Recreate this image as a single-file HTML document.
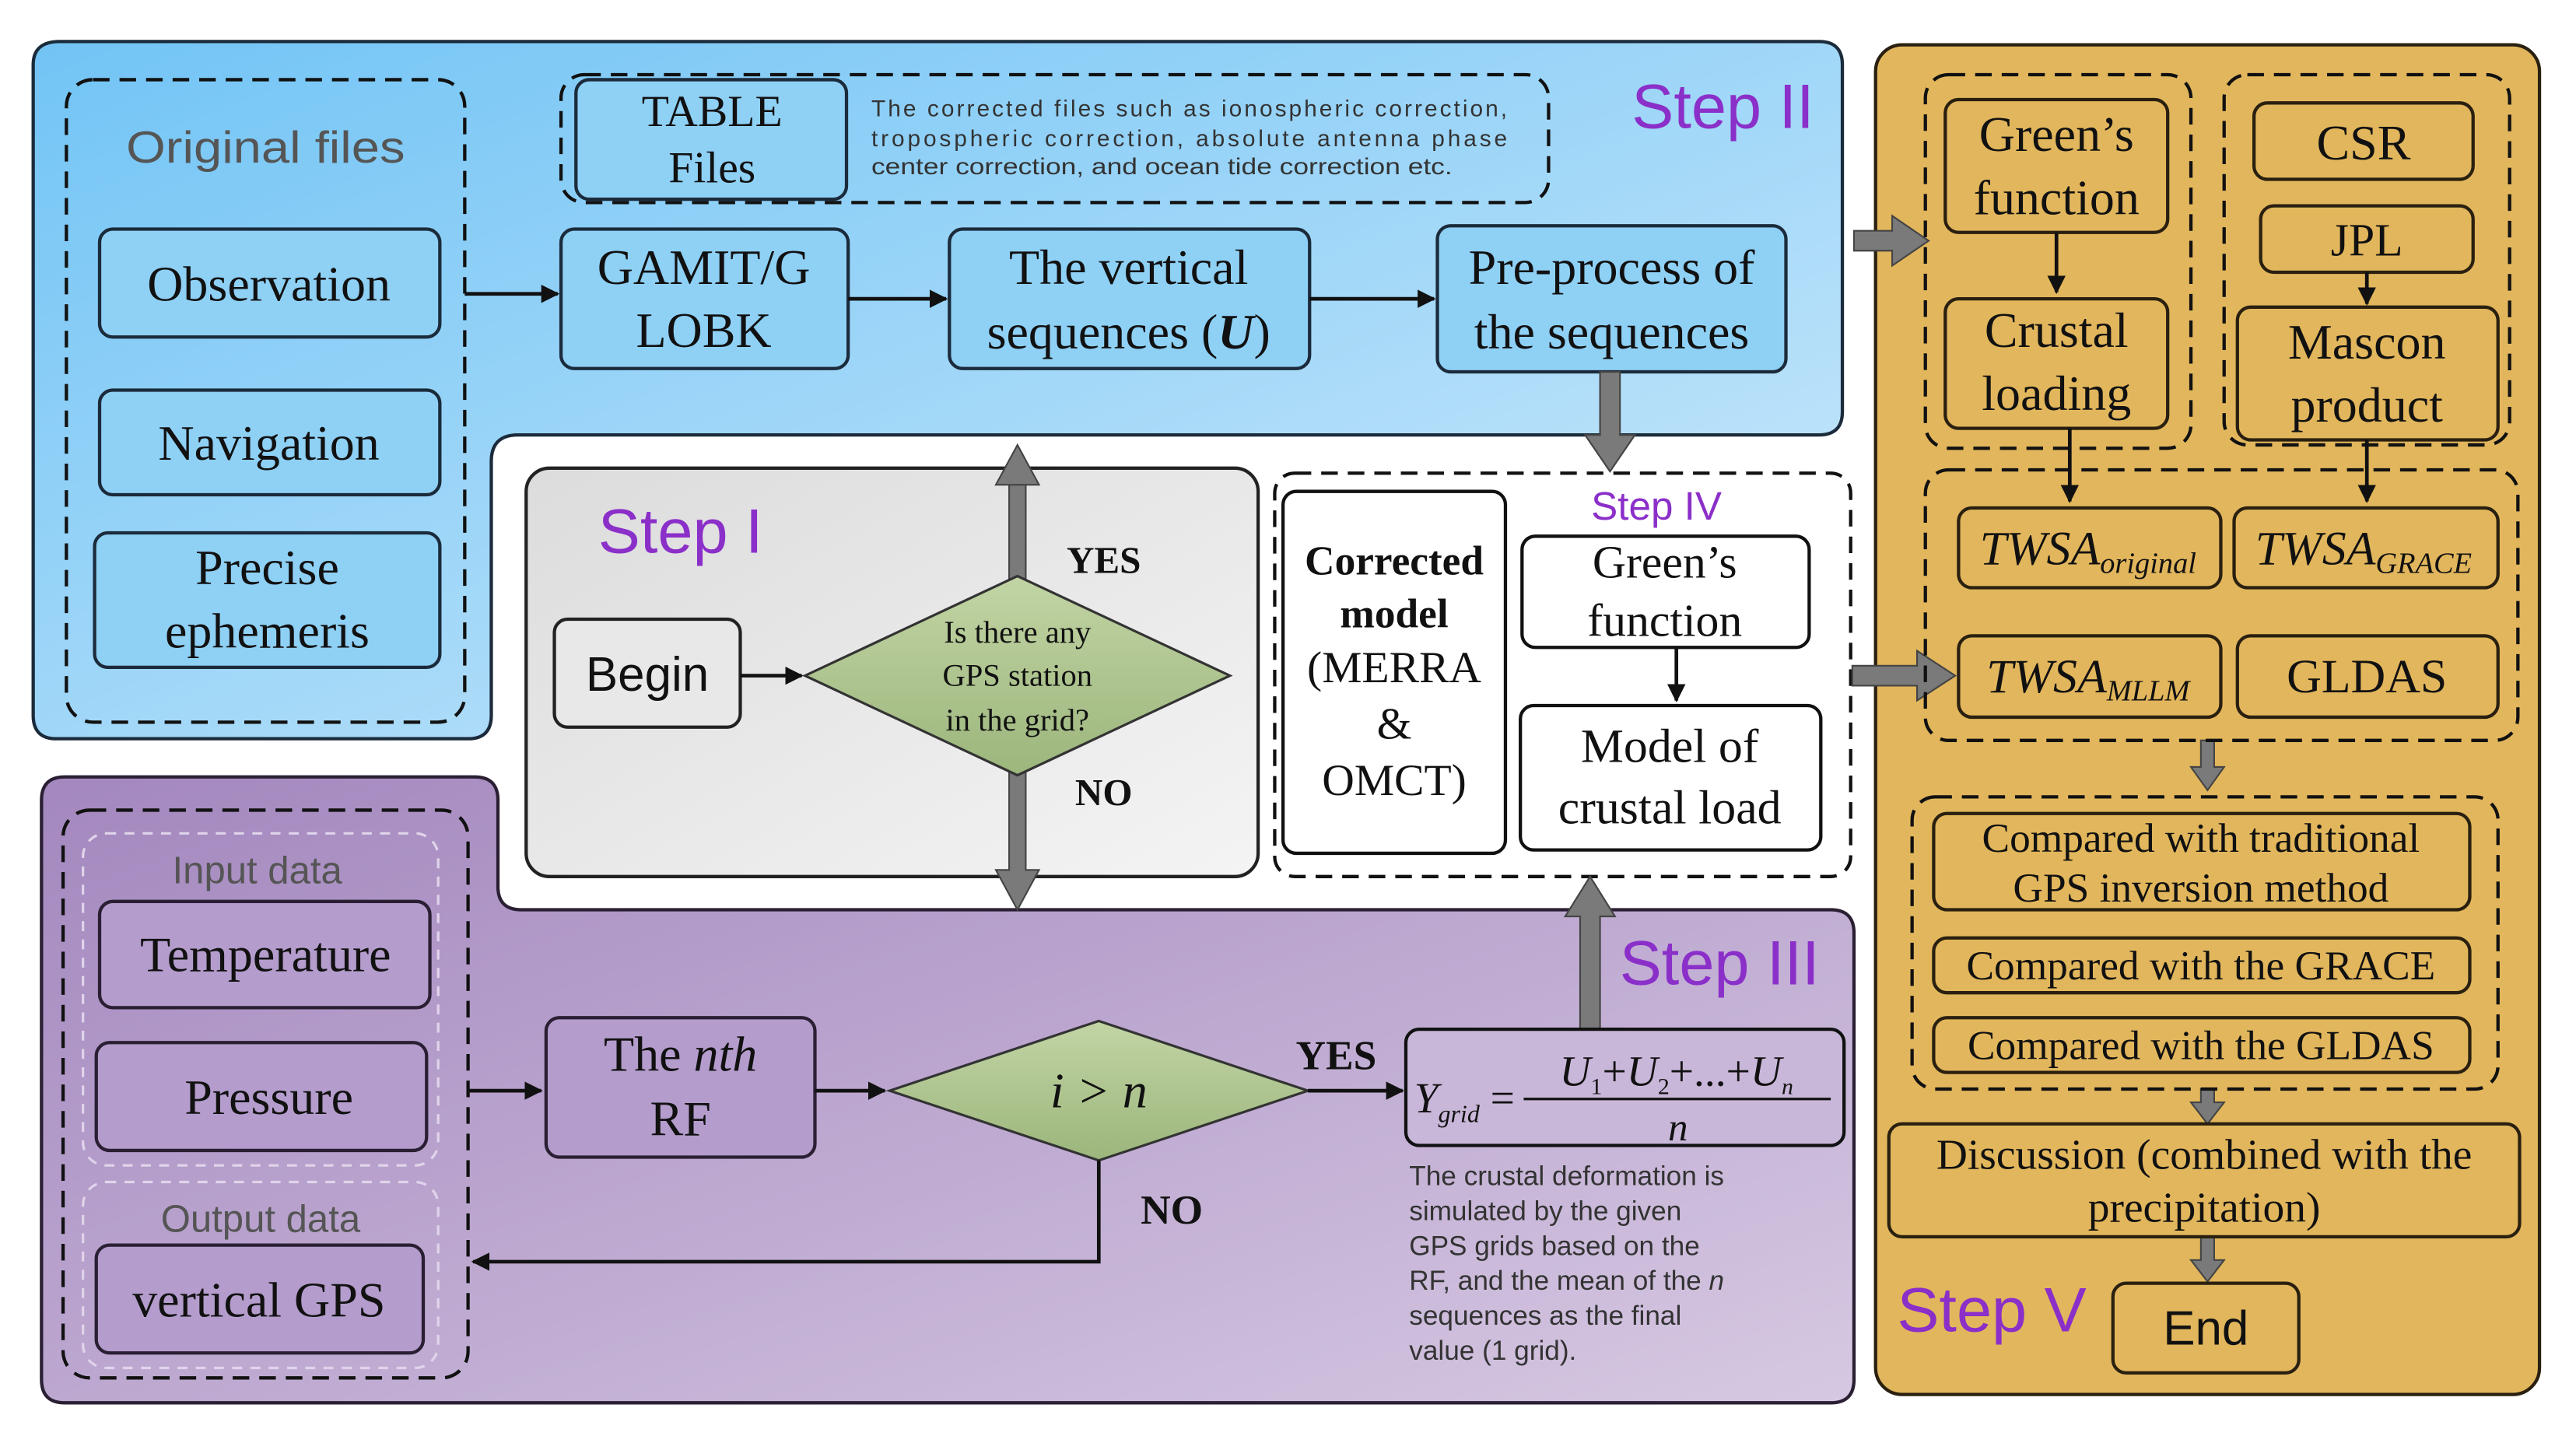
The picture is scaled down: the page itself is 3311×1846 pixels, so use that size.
<!DOCTYPE html>
<html><head><meta charset="utf-8"><style>
html,body{margin:0;padding:0;background:#fff}
svg{display:block}
.s{font-family:"Liberation Serif",serif;fill:#111;text-anchor:middle}
.a{font-family:"Liberation Sans",sans-serif;text-anchor:middle}
.st{font-family:"Liberation Sans",sans-serif;fill:#8b2fc9;font-size:38px;text-anchor:middle}
.bb{fill:#8fd0f5;stroke:#1b2b3b;stroke-width:2}
.pb{fill:#b49ccc;stroke:#2a1f33;stroke-width:2}
.gb{fill:#e2b65c;stroke:#2a2010;stroke-width:2}
.wb{fill:#fff;stroke:#111;stroke-width:2}
.d{fill:none;stroke:#111;stroke-width:2;stroke-dasharray:10,6}
.ln{stroke:#111;stroke-width:2.2;fill:none}
</style></head><body>
<svg width="3311" height="1846" viewBox="0 0 1552 865" preserveAspectRatio="none" xmlns="http://www.w3.org/2000/svg">
<defs>
<marker id="ar" viewBox="0 0 10 10" refX="9" refY="5" markerWidth="5" markerHeight="5" orient="auto"><path d="M0,0L10,5L0,10z" fill="#111"/></marker>
<linearGradient id="gbl" x1="0" y1="0" x2="1" y2="1"><stop offset="0" stop-color="#72c4f5"/><stop offset="1" stop-color="#cfeafb"/></linearGradient>
<linearGradient id="gpu" x1="0" y1="0" x2="1" y2="1"><stop offset="0" stop-color="#a387be"/><stop offset="1" stop-color="#d6c8e2"/></linearGradient>
<linearGradient id="ggr" x1="0" y1="0" x2="1" y2="1"><stop offset="0" stop-color="#dcdcdc"/><stop offset="1" stop-color="#f4f4f4"/></linearGradient>
<linearGradient id="gdi" x1="0" y1="0" x2="0" y2="1"><stop offset="0" stop-color="#c2d4a4"/><stop offset="1" stop-color="#9cb67c"/></linearGradient>
</defs>

<path d="M36,25H1096Q1110,25 1110,39V248Q1110,262 1096,262H312Q296,262 296,278V431Q296,445 282,445H34Q20,445 20,431V39Q20,25 36,25Z" fill="url(#gbl)" stroke="#1b2b3b" stroke-width="2"/>
<path d="M39,468H286Q300,468 300,482V534Q300,548 314,548H1103Q1117,548 1117,562V831Q1117,845 1103,845H39Q25,845 25,831V482Q25,468 39,468Z" fill="url(#gpu)" stroke="#2a1f33" stroke-width="2"/>
<rect x="1130" y="27" width="400" height="813" rx="16" fill="#e2b65c" stroke="#2a2010" stroke-width="2"/>
<rect x="317" y="282" width="441" height="246" rx="14" fill="url(#ggr)" stroke="#222" stroke-width="2"/>
<rect x="768" y="285" width="347" height="243" rx="12" fill="#fff" class="d"/>

<rect x="40" y="48" width="240" height="387" rx="16" class="d"/>
<text x="160" y="98" class="a" font-size="27" fill="#555" textLength="168" lengthAdjust="spacingAndGlyphs">Original files</text>
<rect x="60" y="138" width="205" height="65" rx="8" class="bb"/><text x="162" y="181" class="s" font-size="30">Observation</text>
<rect x="60" y="235" width="205" height="63" rx="8" class="bb"/><text x="162" y="277" class="s" font-size="30">Navigation</text>
<rect x="57" y="321" width="208" height="81" rx="8" class="bb"/><text x="161" y="352" class="s" font-size="30">Precise</text><text x="161" y="390" class="s" font-size="30">ephemeris</text>

<rect x="338" y="45" width="595" height="77" rx="14" class="d"/>
<rect x="347" y="48" width="163" height="72" rx="8" class="bb"/>
<text x="429" y="76" class="s" font-size="27">TABLE</text><text x="429" y="110" class="s" font-size="27">Files</text>
<g font-family="Liberation Sans,sans-serif" font-size="14" fill="#333">
<text x="525" y="70" textLength="383" lengthAdjust="spacing">The corrected files such as ionospheric correction,</text>
<text x="525" y="88" textLength="383" lengthAdjust="spacing">tropospheric correction, absolute antenna phase</text>
<text x="525" y="105" textLength="350" lengthAdjust="spacingAndGlyphs">center correction, and ocean tide correction etc.</text>
</g>
<text x="1038" y="77" class="st">Step II</text>

<rect x="338" y="138" width="173" height="84" rx="8" class="bb"/><text x="424" y="171" class="s" font-size="30">GAMIT/G</text><text x="424" y="209" class="s" font-size="30">LOBK</text>
<rect x="572" y="138" width="217" height="84" rx="8" class="bb"/><text x="680" y="171" class="s" font-size="30">The vertical</text><text x="680" y="210" class="s" font-size="30">sequences (<tspan font-weight="bold" font-style="italic">U</tspan>)</text>
<rect x="866" y="136" width="210" height="88" rx="8" class="bb"/><text x="971" y="171" class="s" font-size="30">Pre-process of</text><text x="971" y="210" class="s" font-size="30">the sequences</text>
<line x1="280" y1="177" x2="336" y2="177" class="ln" marker-end="url(#ar)"/>
<line x1="511" y1="180" x2="570" y2="180" class="ln" marker-end="url(#ar)"/>
<line x1="789" y1="180" x2="864" y2="180" class="ln" marker-end="url(#ar)"/>

<g fill="#7a7a7a" stroke="#444" stroke-width="1">
<path d="M964,224H976V262H985L970,284L955,262H964Z"/>
<path d="M1117,139H1140V130L1162,145L1140,160V151H1117Z"/>
<path d="M1116,401H1155V392L1178,407L1155,422V413H1116Z"/>
<path d="M608,292H618V524H626L613,548L600,524H608V292H600L613,268L626,292Z"/>
<path d="M952,620V552H943L958,528L973,552H964V620Z"/>
<path d="M1326,446H1334V462H1340L1330,476L1320,462H1326Z"/>
<path d="M1326,656H1334V664H1340L1330,677L1320,664H1326Z"/>
<path d="M1326,745H1334V759H1340L1330,772L1320,759H1326Z"/>
</g>

<text x="410" y="333" class="st">Step I</text>
<rect x="334" y="373" width="112" height="65" rx="8" fill="#e8e8e8" stroke="#222" stroke-width="2"/>
<text x="390" y="416" class="a" font-size="29" fill="#111">Begin</text>
<line x1="446" y1="407" x2="483" y2="407" class="ln" marker-end="url(#ar)"/>
<polygon points="613,347 741,407 613,467 485,407" fill="url(#gdi)" stroke="#333" stroke-width="1.5"/>
<text x="613" y="387" class="s" font-size="19">Is there any</text>
<text x="613" y="413" class="s" font-size="19">GPS station</text>
<text x="613" y="440" class="s" font-size="19">in the grid?</text>
<text x="665" y="345" class="s" font-size="23" font-weight="bold">YES</text>
<text x="665" y="485" class="s" font-size="23" font-weight="bold">NO</text>

<text x="998" y="313" class="a" font-size="24" fill="#8b2fc9">Step IV</text>
<rect x="773" y="296" width="134" height="218" rx="8" class="wb"/>
<text x="840" y="346" class="s" font-size="25" font-weight="bold">Corrected</text>
<text x="840" y="378" class="s" font-size="25" font-weight="bold">model</text>
<text x="840" y="411" class="s" font-size="27">(MERRA</text>
<text x="840" y="445" class="s" font-size="27">&amp;</text>
<text x="840" y="479" class="s" font-size="27">OMCT)</text>
<rect x="917" y="323" width="173" height="67" rx="8" class="wb"/>
<text x="1003" y="348" class="s" font-size="28">Green’s</text><text x="1003" y="383" class="s" font-size="28">function</text>
<line x1="1010" y1="390" x2="1010" y2="422" class="ln" marker-end="url(#ar)"/>
<rect x="916" y="425" width="181" height="87" rx="8" class="wb"/>
<text x="1006" y="459" class="s" font-size="29">Model of</text><text x="1006" y="496" class="s" font-size="29">crustal load</text>

<rect x="38" y="488" width="244" height="342" rx="16" class="d"/>
<rect x="50" y="502" width="214" height="200" rx="14" fill="none" stroke="#e0d4ea" stroke-width="1.5" stroke-dasharray="6,5"/>
<rect x="50" y="712" width="214" height="112" rx="14" fill="none" stroke="#e0d4ea" stroke-width="1.5" stroke-dasharray="6,5"/>
<text x="155" y="532" class="a" font-size="23" fill="#555">Input data</text>
<rect x="60" y="543" width="199" height="64" rx="8" class="pb"/><text x="160" y="585" class="s" font-size="30">Temperature</text>
<rect x="58" y="628" width="199" height="65" rx="8" class="pb"/><text x="162" y="671" class="s" font-size="30">Pressure</text>
<text x="157" y="742" class="a" font-size="23" fill="#555">Output data</text>
<rect x="58" y="750" width="197" height="65" rx="8" class="pb"/><text x="156" y="793" class="s" font-size="30">vertical GPS</text>
<line x1="282" y1="657" x2="326" y2="657" class="ln" marker-end="url(#ar)"/>
<rect x="329" y="613" width="162" height="84" rx="8" class="pb"/>
<text x="410" y="645" class="s" font-size="30">The <tspan font-style="italic">nth</tspan></text><text x="410" y="684" class="s" font-size="30">RF</text>
<line x1="491" y1="657" x2="533" y2="657" class="ln" marker-end="url(#ar)"/>
<polygon points="662,615 788,657 662,699 536,657" fill="url(#gdi)" stroke="#333" stroke-width="1.5"/>
<text x="662" y="667" class="s" font-size="30" font-style="italic">i &gt; n</text>
<text x="805" y="644" class="s" font-size="25" font-weight="bold">YES</text>
<line x1="788" y1="657" x2="845" y2="657" class="ln" marker-end="url(#ar)"/>
<polyline points="662,699 662,760 285,760" class="ln" marker-end="url(#ar)"/>
<text x="706" y="737" class="s" font-size="25" font-weight="bold">NO</text>
<rect x="847" y="620" width="264" height="70" rx="8" fill="#c9b7d9" stroke="#111" stroke-width="2"/>
<text x="852" y="670" font-family="Liberation Serif,serif" font-size="26" font-style="italic" fill="#111">Y<tspan font-size="15" dy="6">grid</tspan><tspan dy="-6" font-style="normal"> =</tspan></text>
<line x1="918" y1="662" x2="1103" y2="662" stroke="#111" stroke-width="1.5"/>
<text x="1010" y="654" class="s" font-size="26" font-style="italic">U<tspan font-size="14" dy="5" font-style="normal">1</tspan><tspan dy="-5" font-style="normal">+</tspan>U<tspan font-size="14" dy="5" font-style="normal">2</tspan><tspan dy="-5" font-style="normal">+...+</tspan>U<tspan font-size="14" dy="5">n</tspan></text>
<text x="1011" y="687" class="s" font-size="24" font-style="italic">n</text>
<text x="1036" y="593" class="st">Step III</text>
<g font-family="Liberation Sans,sans-serif" font-size="16.5" fill="#333">
<text x="849" y="714">The crustal deformation is</text>
<text x="849" y="735">simulated by the given</text>
<text x="849" y="756">GPS grids based on the</text>
<text x="849" y="777">RF, and the mean of the <tspan font-style="italic">n</tspan></text>
<text x="849" y="798">sequences as the final</text>
<text x="849" y="819">value (1 grid).</text>
</g>

<rect x="1160" y="45" width="160" height="225" rx="14" class="d"/>
<rect x="1340" y="45" width="172" height="223" rx="14" class="d"/>
<rect x="1172" y="60" width="134" height="80" rx="8" class="gb"/><text x="1239" y="91" class="s" font-size="30">Green’s</text><text x="1239" y="129" class="s" font-size="30">function</text>
<line x1="1239" y1="140" x2="1239" y2="176" class="ln" marker-end="url(#ar)"/>
<rect x="1172" y="180" width="134" height="78" rx="8" class="gb"/><text x="1239" y="209" class="s" font-size="30">Crustal</text><text x="1239" y="247" class="s" font-size="30">loading</text>
<rect x="1358" y="62" width="132" height="46" rx="8" class="gb"/><text x="1424" y="96" class="s" font-size="30">CSR</text>
<rect x="1362" y="124" width="128" height="40" rx="8" class="gb"/><text x="1426" y="154" class="s" font-size="28">JPL</text>
<line x1="1426" y1="164" x2="1426" y2="183" class="ln" marker-end="url(#ar)"/>
<rect x="1348" y="185" width="157" height="80" rx="8" class="gb"/><text x="1426" y="216" class="s" font-size="30">Mascon</text><text x="1426" y="254" class="s" font-size="30">product</text>
<line x1="1247" y1="258" x2="1247" y2="302" class="ln" marker-end="url(#ar)"/>
<line x1="1426" y1="265" x2="1426" y2="302" class="ln" marker-end="url(#ar)"/>
<rect x="1160" y="283" width="357" height="163" rx="14" class="d"/>
<rect x="1180" y="306" width="158" height="48" rx="8" class="gb"/><text x="1258" y="340" class="s" font-size="29" font-style="italic">TWSA<tspan font-size="18" dy="5">original</tspan></text>
<rect x="1346" y="306" width="159" height="48" rx="8" class="gb"/><text x="1424" y="340" class="s" font-size="29" font-style="italic">TWSA<tspan font-size="18" dy="5">GRACE</tspan></text>
<rect x="1180" y="383" width="158" height="49" rx="8" class="gb"/><text x="1258" y="417" class="s" font-size="29" font-style="italic">TWSA<tspan font-size="18" dy="5">MLLM</tspan></text>
<rect x="1348" y="383" width="157" height="49" rx="8" class="gb"/><text x="1426" y="417" class="s" font-size="29">GLDAS</text>
<rect x="1152" y="480" width="353" height="176" rx="14" class="d"/>
<rect x="1165" y="490" width="323" height="58" rx="8" class="gb"/><text x="1326" y="513" class="s" font-size="25">Compared with traditional</text><text x="1326" y="543" class="s" font-size="25">GPS inversion method</text>
<rect x="1165" y="565" width="323" height="33" rx="8" class="gb"/><text x="1326" y="590" class="s" font-size="25">Compared with the GRACE</text>
<rect x="1165" y="613" width="323" height="33" rx="8" class="gb"/><text x="1326" y="638" class="s" font-size="25">Compared with the GLDAS</text>
<rect x="1138" y="677" width="380" height="68" rx="8" class="gb"/><text x="1328" y="704" class="s" font-size="26">Discussion (combined with the</text><text x="1328" y="736" class="s" font-size="26">precipitation)</text>
<text x="1200" y="802" class="st">Step V</text>
<rect x="1273" y="773" width="112" height="54" rx="8" class="gb"/><text x="1329" y="810" class="a" font-size="29" fill="#111">End</text>
</svg>
</body></html>
